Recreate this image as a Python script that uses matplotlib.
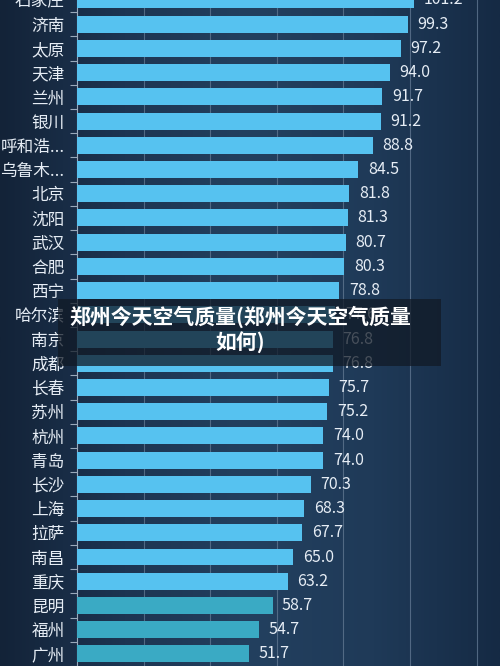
import matplotlib
matplotlib.use('Agg')
import matplotlib.pyplot as plt
import numpy as np
from matplotlib.patches import Rectangle

plt.rcParams['font.family'] = ['Noto Sans CJK SC', 'DejaVu Sans']

cities = ['石家庄', '济南', '太原', '天津', '兰州', '银川', '呼和浩...', '乌鲁木...',
          '北京', '沈阳', '武汉', '合肥', '西宁', '哈尔滨', '南京', '成都',
          '长春', '苏州', '杭州', '青岛', '长沙', '上海', '拉萨', '南昌',
          '重庆', '昆明', '福州', '广州']
values = [101.2, 99.3, 97.2, 94.0, 91.7, 91.2, 88.8, 84.5,
          81.8, 81.3, 80.7, 80.3, 78.8, 77.6, 76.8, 76.8,
          75.7, 75.2, 74.0, 74.0, 70.3, 68.3, 67.7, 65.0,
          63.2, 58.7, 54.7, 51.7]
grid_ticks = [20, 40, 60, 80, 100, 120]
overlay_text = '郑州今天空气质量(郑州今天空气质量\n如何)'

fig = plt.figure(figsize=(5, 6.66), dpi=100, facecolor='#13253b')

# background gradient
bg = fig.add_axes([0, 0, 1, 1], zorder=-10)
grad = np.linspace(0, 1, 256).reshape(1, -1)
bg.imshow(grad, aspect='auto', cmap=matplotlib.colors.LinearSegmentedColormap.from_list(
    'bgc', ['#132338', '#1d3552', '#23405f', '#1f3a58', '#152a44']), extent=[0, 1, 0, 1])
bg.axis('off')

ax = fig.add_axes([0.154, 0, 0.846, 1])
ax.set_facecolor('none')

y = np.arange(len(cities))
colors = ['#56c2f0'] * len(cities)
for i in range(len(cities) - 3, len(cities)):
    colors[i] = '#3aaac4'
ax.barh(y, values, height=0.7, color=colors, zorder=3)

for yi, v in zip(y, values):
    ax.text(v + 2.8, yi, '%.1f' % v, va='center', ha='left', color='#e6edf5',
            fontsize=11.5, zorder=4)

ax.set_xlim(0, 127)
ax.set_ylim(27.49, 0.164)
ax.set_xticks(grid_ticks)
ax.xaxis.grid(True, color='#5f7690', linewidth=0.8, alpha=0.8, zorder=1)
ax.tick_params(axis='x', length=0, labelbottom=False)

ax.set_yticks(y)
ax.set_yticklabels(cities, color='#e6edf5', fontsize=12)
ax.set_yticks(y + 0.5, minor=True)
ax.tick_params(axis='y', which='major', length=0, pad=9)
ax.tick_params(axis='y', which='minor', length=5, color='#9aaabb', width=0.8)

for s in ['top', 'right', 'bottom']:
    ax.spines[s].set_visible(False)
ax.spines['left'].set_color('#9aaabb')
ax.spines['left'].set_linewidth(0.8)

# caption overlay
fig.patches.append(Rectangle((58 / 500, 1 - 366 / 666), (441 - 58) / 500, 67 / 666,
                             transform=fig.transFigure, facecolor='#111a26', alpha=0.75,
                             zorder=20))
fig.text(240 / 500, 1 - 330 / 666, overlay_text, ha='center', va='center',
         color='white', fontsize=15, fontweight='bold', linespacing=1.25, zorder=21)

fig.savefig('out.png', dpi=100, facecolor=fig.get_facecolor())
